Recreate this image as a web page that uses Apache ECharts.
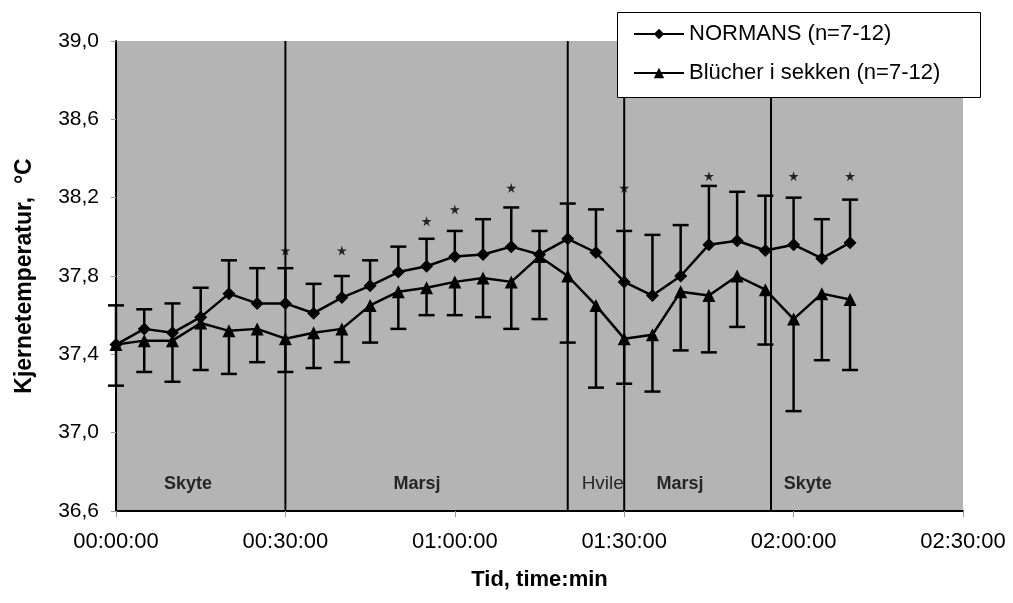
<!DOCTYPE html>
<html>
<head>
<meta charset="utf-8">
<title>Kjernetemperatur</title>
<script src="https://cdn.jsdelivr.net/npm/echarts@6/dist/echarts.min.js"></script>
<style>
  html, body { margin: 0; padding: 0; background: #fff; }
  #chart { width: 1013px; height: 603px; }
</style>
</head>
<body>
<div id="chart"></div>
<script>
// tid i minutter
var times = [0, 5, 10, 15, 20, 25, 30, 35, 40, 45, 50, 55, 60, 65, 70, 75, 80, 85, 90, 95, 100, 105, 110, 115, 120, 125, 130];

// NORMANS: middel og øvre feilstolpe
var normans = [37.45, 37.53, 37.51, 37.59, 37.71, 37.66, 37.66, 37.61, 37.69, 37.75, 37.82, 37.85, 37.90, 37.91,
  37.95, 37.91, 37.99, 37.92, 37.77, 37.70, 37.80, 37.96, 37.98, 37.93, 37.96, 37.89, 37.97];
var normansUpper = [37.65, 37.63, 37.66, 37.74, 37.88, 37.84, 37.84, 37.76, 37.80, 37.88, 37.95, 37.99, 38.03, 38.09,
  38.15, 38.03, 38.17, 38.14, 38.03, 38.01, 38.06, 38.26, 38.23, 38.21, 38.20, 38.09, 38.19];

// Blücher i sekken: middel og nedre feilstolpe
var blucher = [37.45, 37.47, 37.47, 37.56, 37.52, 37.53, 37.48, 37.51, 37.53, 37.65, 37.72, 37.74, 37.77, 37.79,
  37.77, 37.90, 37.80, 37.65, 37.48, 37.50, 37.72, 37.70, 37.80, 37.73, 37.58, 37.71, 37.68];
var blucherLower = [37.24, 37.31, 37.26, 37.32, 37.30, 37.36, 37.31, 37.33, 37.36, 37.46, 37.53, 37.60, 37.60, 37.59,
  37.53, 37.58, 37.46, 37.23, 37.25, 37.21, 37.42, 37.41, 37.54, 37.45, 37.11, 37.37, 37.32];

// signifikans (*)
var starTimes = [30, 40, 55, 60, 70, 90, 105, 120, 130];
var starValues = [37.93, 37.93, 38.08, 38.14, 38.25, 38.25, 38.31, 38.31, 38.31];

// faser
var phaseLines = [30, 80, 90, 116];
var phaseNames = ["Skyte", "Marsj", "Hvile", "Marsj", "Skyte"];
var phaseTimes = [12.75, 53.3, 86.2, 99.9, 122.5];
var phaseLevel = 36.74;

var yTicks = [36.6, 39.0];

var FONT = '"Liberation Sans", Arial, sans-serif';
var STAR = "path://M50,0 L61,35 L98,35 L68,57 L79,91 L50,70 L21,91 L32,57 L2,35 L39,35 Z";

function pad(n) { return (n < 10 ? "0" : "") + n; }
function fmtTime(v) {
  var h = Math.floor(v / 60), m = Math.round(v % 60);
  return pad(h) + ":" + pad(m) + ":00";
}

// feilstolper som custom-serie
function errorBar(params, api) {
  var p0 = api.coord([api.value(0), api.value(1)]);
  var p1 = api.coord([api.value(0), api.value(2)]);
  var st = { stroke: "#000", lineWidth: 2.5 };
  return {
    type: "group",
    children: [
      { type: "line", shape: { x1: p0[0], y1: p0[1], x2: p1[0], y2: p1[1] }, style: st },
      { type: "line", shape: { x1: p1[0] - 8, y1: p1[1], x2: p1[0] + 8, y2: p1[1] }, style: st }
    ]
  };
}

// loddrette fase-linjer over hele y-aksen
function phaseLine(params, api) {
  var a = api.coord([api.value(0), yTicks[0]]);
  var b = api.coord([api.value(0), yTicks[1]]);
  return { type: "line", shape: { x1: a[0], y1: a[1], x2: b[0], y2: b[1] }, style: { stroke: "#000", lineWidth: 2 } };
}

function pairs(xs, ys) { return xs.map(function (x, i) { return [x, ys[i]]; }); }
function triples(xs, ys, es) { return xs.map(function (x, i) { return [x, ys[i], es[i]]; }); }

var chart = echarts.init(document.getElementById("chart"));
chart.setOption({
  animation: false,
  textStyle: { fontFamily: FONT },
  grid: {
    left: 116, right: 50, top: 41, bottom: 92,
    show: true, backgroundColor: "#b4b4b4", borderWidth: 0
  },
  legend: {
    data: ["NORMANS (n=7-12)", "Blücher i sekken (n=7-12)"],
    orient: "vertical",
    left: 617, top: 12,
    padding: [11, 36, 13, 16],
    itemGap: 17,
    itemWidth: 50, itemHeight: 13,
    z: 20,
    textStyle: { fontSize: 22, color: "#000", fontFamily: FONT }
  },
  // hvit boks bak forklaringen
  graphic: [{
    type: "rect", left: 617, top: 12, z: 15, silent: true,
    shape: { width: 363, height: 85 },
    style: { fill: "#fff", stroke: "#000", lineWidth: 1 }
  }],
  xAxis: {
    type: "value",
    min: 0, max: 150, interval: 30,
    name: "Tid, time:min",
    nameLocation: "middle", nameGap: 58,
    nameTextStyle: { fontSize: 22, fontWeight: "bold", color: "#000", fontFamily: FONT },
    axisLine: { lineStyle: { color: "#000", width: 2 } },
    axisTick: { length: 6, lineStyle: { color: "#999" } },
    axisLabel: { fontSize: 22, color: "#000", margin: 20, formatter: fmtTime },
    splitLine: { show: false }
  },
  yAxis: {
    type: "value",
    min: yTicks[0], max: yTicks[1], interval: 0.4,
    name: "Kjernetemperatur,  °C",
    nameLocation: "middle", nameGap: 80,
    nameTextStyle: { fontSize: 23, fontWeight: "bold", color: "#000", fontFamily: FONT },
    axisLine: { show: true, lineStyle: { color: "#000", width: 2 } },
    axisTick: { show: true, length: 5, lineStyle: { color: "#999" } },
    axisLabel: {
      fontSize: 21, color: "#000", margin: 17,
      formatter: function (v) { return v.toFixed(1).replace(".", ","); }
    },
    splitLine: { show: false }
  },
  series: [
    {
      name: "phaseLines",
      type: "custom",
      renderItem: phaseLine,
      silent: true,
      data: phaseLines.map(function (t) { return [t]; }),
      z: 2
    },
    {
      name: "phases",
      type: "scatter",
      symbolSize: 0,
      silent: true,
      data: phaseNames.map(function (n, i) {
        return {
          name: n, value: [phaseTimes[i], phaseLevel],
          label: { fontWeight: n === "Hvile" ? "normal" : "bold", fontSize: n === "Hvile" ? 19 : 18 }
        };
      }),
      label: {
        show: true, position: "inside", color: "#000",
        formatter: function (p) { return p.name; }
      },
      z: 3
    },
    {
      name: "normansErr",
      type: "custom",
      renderItem: errorBar,
      data: triples(times, normans, normansUpper),
      z: 4
    },
    {
      name: "blucherErr",
      type: "custom",
      renderItem: errorBar,
      data: triples(times, blucher, blucherLower),
      z: 4
    },
    {
      name: "NORMANS (n=7-12)",
      type: "line",
      data: pairs(times, normans),
      symbol: "diamond", symbolSize: 13,
      lineStyle: { color: "#000", width: 2.5 },
      itemStyle: { color: "#000" },
      z: 5
    },
    {
      name: "Blücher i sekken (n=7-12)",
      type: "line",
      data: pairs(times, blucher),
      symbol: "triangle", symbolSize: 13,
      lineStyle: { color: "#000", width: 2.5 },
      itemStyle: { color: "#000" },
      z: 5
    },
    {
      name: "stars",
      type: "scatter",
      data: pairs(starTimes, starValues),
      symbol: STAR, symbolSize: 10,
      itemStyle: { color: "#000" },
      z: 5
    }
  ]
});
</script>
</body>
</html>
